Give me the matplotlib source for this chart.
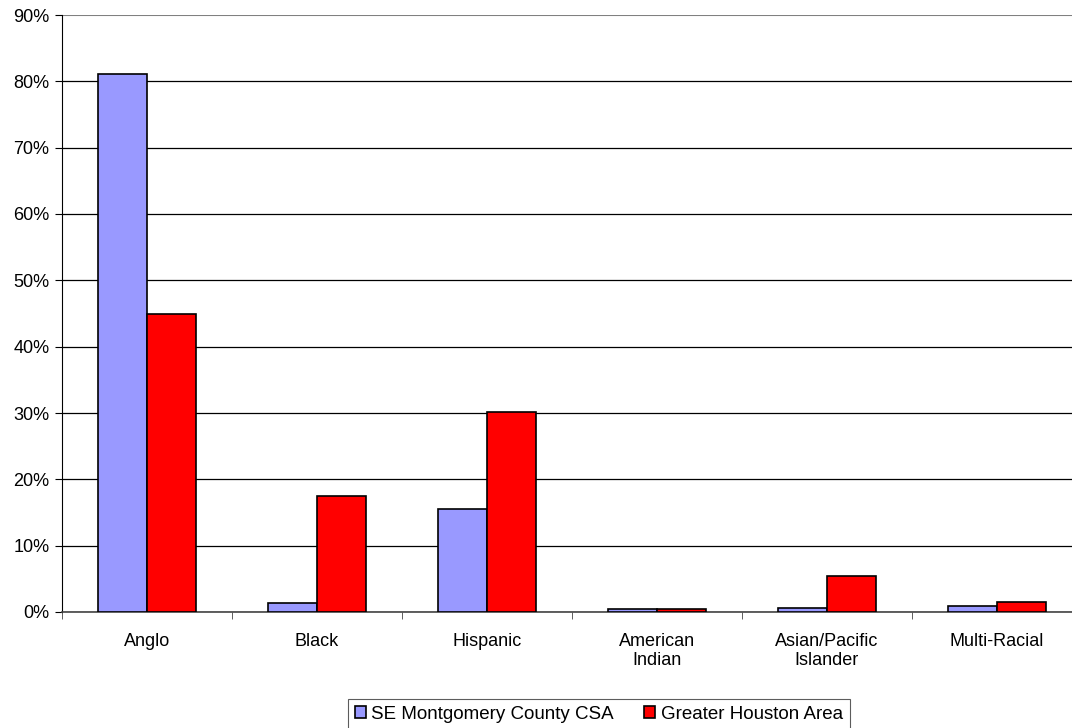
import numpy as np
import matplotlib.pyplot as plt
from matplotlib.ticker import PercentFormatter

categories = ['Anglo', 'Black', 'Hispanic', 'American\nIndian', 'Asian/Pacific\nIslander', 'Multi-Racial']
se_montgomery = [81.1, 1.3, 15.5, 0.5, 0.6, 0.9]
greater_houston = [44.9, 17.5, 30.2, 0.4, 5.4, 1.5]

plt.rcParams['font.family'] = ['Liberation Sans', 'DejaVu Sans']

fig = plt.figure(figsize=(10.72, 7.28), dpi=100)
# plot area runs past the right edge of the picture, as in the original
ax = fig.add_axes([62 / 1072, 116 / 728, 1020 / 1072, 597 / 728])

x = np.arange(len(categories))
w = 0.288
ax.bar(x - w / 2, se_montgomery, w, color='#9999FF', edgecolor='black', linewidth=1.2,
       label='SE Montgomery County CSA', zorder=3)
ax.bar(x + w / 2, greater_houston, w, color='#FF0000', edgecolor='black', linewidth=1.2,
       label='Greater Houston Area', zorder=3)

ax.set_xlim(-0.5, len(categories) - 0.5)
ax.set_ylim(0, 90)
ax.set_yticks(range(0, 91, 10))
ax.yaxis.set_major_formatter(PercentFormatter(decimals=0))
ax.yaxis.grid(True, color='black', linewidth=0.9, zorder=0)
ax.get_ygridlines()[-1].set_color('#808080')
ax.get_ygridlines()[-1].set_linewidth(1.5)

ax.set_xticks(x)
ax.set_xticklabels(categories)
ax.set_xticks(np.arange(-0.5, len(categories)), minor=True)
ax.tick_params(axis='x', which='major', length=0, pad=15, labelsize=13)
ax.tick_params(axis='x', which='minor', length=5, direction='out', color='#444444')
ax.tick_params(axis='y', length=5, direction='out', labelsize=13, pad=4)

for s in ['top', 'right']:
    ax.spines[s].set_visible(False)
ax.spines['left'].set_color('black')
ax.spines['bottom'].set_color('#444444')
ax.spines['bottom'].set_linewidth(1.2)

leg = fig.legend(loc='upper left', bbox_to_anchor=(348 / 1072, 29 / 728), ncol=2,
                 frameon=True, fancybox=False, edgecolor='#333333', fontsize=13.5,
                 handlelength=0.6, handleheight=0.6, handletextpad=0.3,
                 columnspacing=1.6, borderpad=0.35, borderaxespad=0)
leg.get_frame().set_linewidth(0.8)

fig.savefig('out.png', dpi=100)
